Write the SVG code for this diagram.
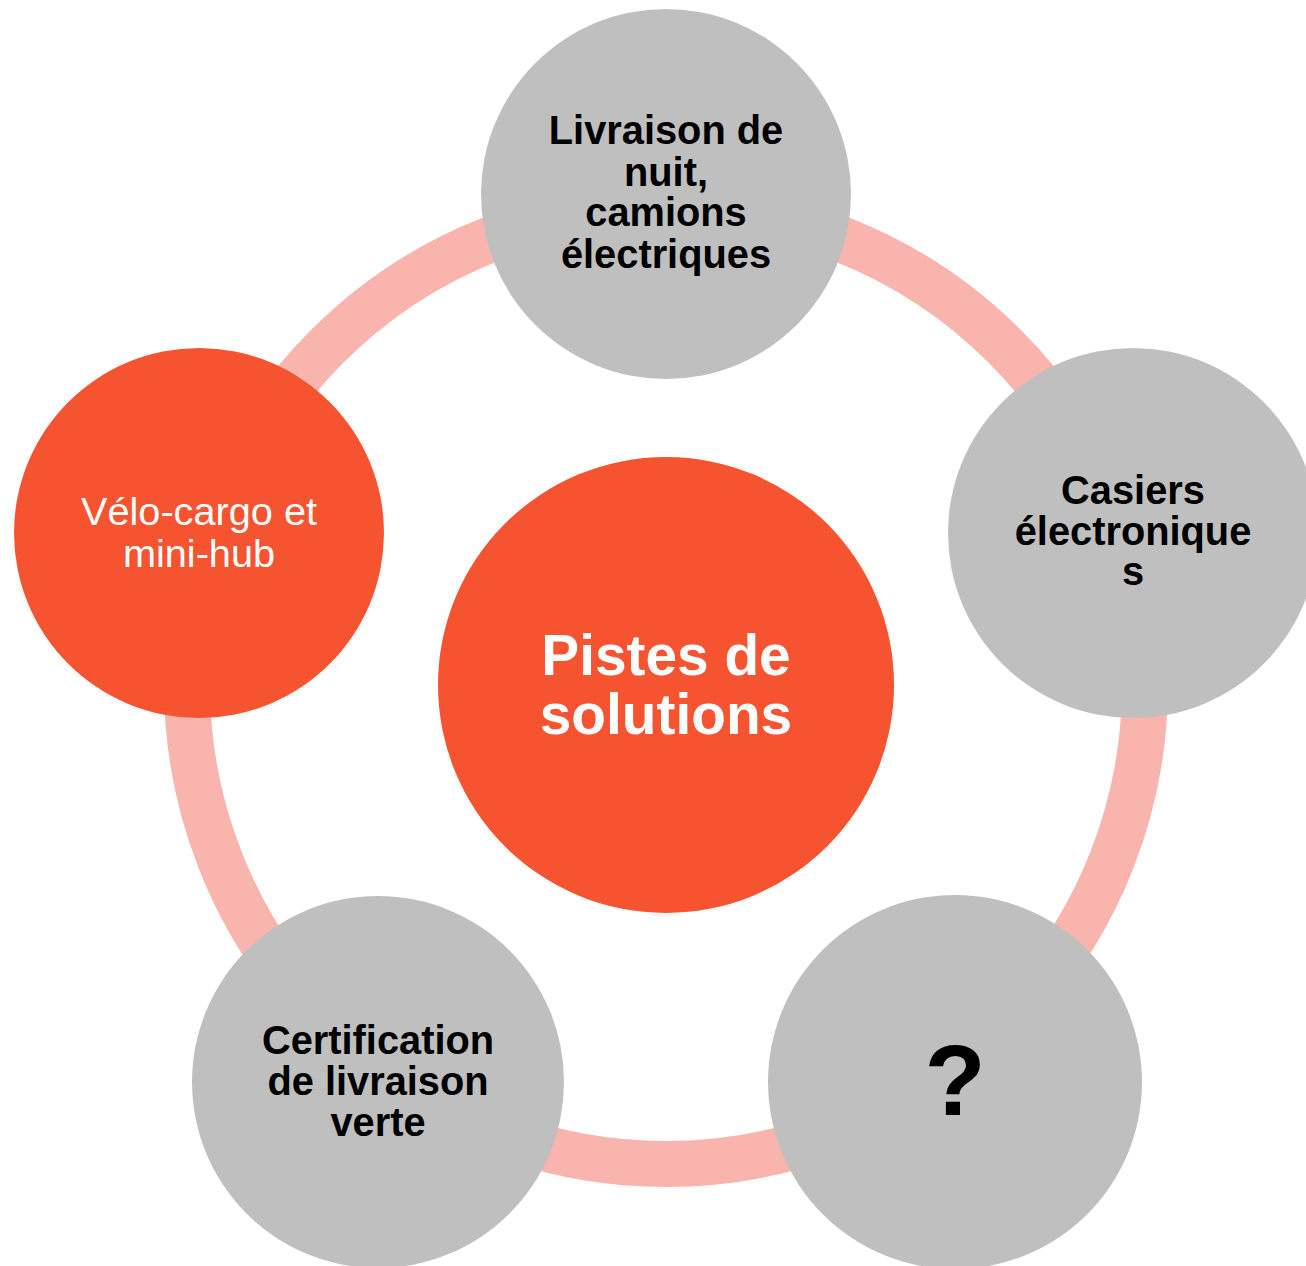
<svg xmlns="http://www.w3.org/2000/svg" width="1306" height="1266" viewBox="0 0 1306 1266">
<style>
.sat{fill:#BFBFBF}
.org{fill:#F65331}
.t{font-family:"Liberation Sans",Arial,sans-serif;text-anchor:middle}
.b{font-weight:bold;fill:#000;font-size:39.8px}
.w{fill:#fff;font-size:39.7px}
</style>
<rect width="1306" height="1266" fill="#fff"/>
<g id="connectors">
<circle cx="666" cy="685" r="479" fill="none" stroke="#F9B4AE" stroke-width="46"/>
</g>
<g id="center">
<circle class="org" cx="666" cy="685" r="228"/>
<text class="t" x="666" y="675" fill="#fff" font-weight="bold" font-size="56.8">Pistes de</text>
<text class="t" x="666" y="734" fill="#fff" font-weight="bold" font-size="56.8">solutions</text>
</g>
<g id="n-top">
<circle class="sat" cx="666" cy="194" r="185"/>
<text class="t b" x="666" y="144">Livraison de</text>
<text class="t b" x="666" y="186">nuit,</text>
<text class="t b" x="666" y="226">camions</text>
<text class="t b" x="666" y="268">électriques</text>
</g>
<g id="n-right">
<circle class="sat" cx="1133" cy="533" r="185"/>
<text class="t b" x="1133" y="504">Casiers</text>
<text class="t b" x="1133" y="545">électronique</text>
<text class="t b" x="1133" y="585">s</text>
</g>
<g id="n-bottomright">
<circle class="sat" cx="955" cy="1082" r="187"/>
<text class="t" x="955" y="1115" font-weight="bold" font-size="100">?</text>
</g>
<g id="n-bottomleft">
<circle class="sat" cx="378" cy="1082" r="186"/>
<text class="t b" x="378" y="1054">Certification</text>
<text class="t b" x="378" y="1095">de livraison</text>
<text class="t b" x="378" y="1136">verte</text>
</g>
<g id="n-left">
<circle class="org" cx="199" cy="533" r="185"/>
<text class="t w" x="199" y="525">Vélo-cargo et</text>
<text class="t w" x="199" y="567">mini-hub</text>
</g>
</svg>
